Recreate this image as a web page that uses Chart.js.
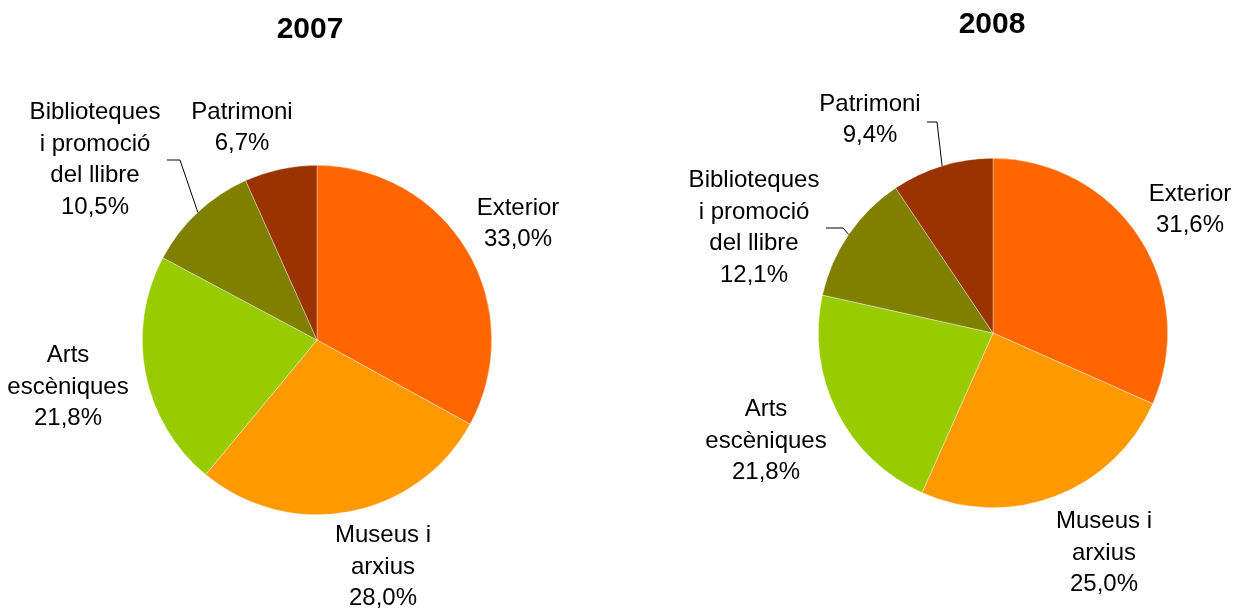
<!DOCTYPE html>
<html>
<head>
<meta charset="utf-8">
<script src="https://cdn.jsdelivr.net/npm/chart.js@4"></script>
<style>
  body { margin: 0; background: #fff; }
  .box { position: absolute; top: 0; height: 610px; }
</style>
</head>
<body>
<div class="box" style="left:0;width:618px"><canvas id="pie2007"></canvas></div>
<div class="box" style="left:618px;width:619px"><canvas id="pie2008"></canvas></div>
<script>
// categories, each split into the lines shown on the chart
const categories = [
  ['Exterior'],
  ['Museus i', 'arxius'],
  ['Arts', 'escèniques'],
  ['Biblioteques', 'i promoció', 'del llibre'],
  ['Patrimoni']
];
const values2007 = [33.0, 28.0, 21.8, 10.5, 6.7];
const values2008 = [31.6, 25.0, 21.8, 12.1, 9.4];
const sliceColors = ['#FF6600', '#FF9900', '#99CC00', '#808000', '#993300'];

const FONT = '"Liberation Sans", Arial, Helvetica, sans-serif';

// label block centres and leader lines, relative to the pie centre
const layout2007 = {
  title: '2007', titleDx: -7, titleY: 30,
  labels: [[201, -116], [66, 227], [-249, 47], [-222, -180], [-75, -212]],
  leaders: [null, null, null, [-137, -180, -150], null]
};
const layout2008 = {
  title: '2008', titleDx: -1, titleY: 25,
  labels: [[197, -123], [111, 220], [-227, 108], [-239, -105], [-123, -213]],
  leaders: [null, null, null, [-150, -105, -167], [-56, -211, -66]]
};

const fmt = v => v.toFixed(1).replace('.', ',') + '%';

const pieLabels = {
  id: 'pieLabels',
  afterDraw(chart, args, opts) {
    const ctx = chart.ctx;
    const meta = chart.getDatasetMeta(0);
    const vals = chart.data.datasets[0].data;
    const arc0 = meta.data[0];
    const cx = arc0.x, cy = arc0.y;
    ctx.save();
    // title
    ctx.fillStyle = '#000';
    ctx.font = 'bold 30px ' + FONT;
    ctx.textAlign = 'center';
    ctx.textBaseline = 'middle';
    ctx.fillText(opts.title, cx + opts.titleDx, opts.titleY);
    // leader lines
    ctx.strokeStyle = '#000';
    ctx.lineWidth = 1;
    meta.data.forEach((arc, i) => {
      const ld = opts.leaders[i];
      if (!ld) return;
      const mid = (arc.startAngle + arc.endAngle) / 2;
      const px = arc.x + arc.outerRadius * Math.cos(mid);
      const py = arc.y + arc.outerRadius * Math.sin(mid);
      ctx.beginPath();
      ctx.moveTo(px, py);
      ctx.lineTo(cx + ld[0], cy + ld[1]);
      ctx.lineTo(cx + ld[2], cy + ld[1]);
      ctx.stroke();
    });
    // labels
    ctx.font = '24px ' + FONT;
    const lh = 31.5;
    categories.forEach((lines, i) => {
      const all = lines.concat([fmt(vals[i])]);
      const [dx, dy] = opts.labels[i];
      const top = cy + dy - (all.length - 1) * lh / 2;
      all.forEach((t, k) => ctx.fillText(t, cx + dx, top + k * lh));
    });
    ctx.restore();
  }
};

function makePie(id, values, padding, lay) {
  new Chart(document.getElementById(id), {
    type: 'pie',
    data: {
      labels: categories.map(c => c.join(' ')),
      datasets: [{
        data: values,
        backgroundColor: sliceColors,
        borderColor: 'rgba(255,255,255,0.6)',
        borderWidth: 0.6
      }]
    },
    options: {
      responsive: true,
      maintainAspectRatio: false,
      animation: false,
      layout: { padding: padding },
      plugins: {
        legend: { display: false },
        tooltip: { enabled: false },
        pieLabels: lay
      }
    },
    plugins: [pieLabels]
  });
}

makePie('pie2007', values2007, { left: 142, right: 126, top: 165, bottom: 95 }, layout2007);
makePie('pie2008', values2008, { left: 200, right: 69, top: 158, bottom: 102 }, layout2008);
</script>
</body>
</html>
